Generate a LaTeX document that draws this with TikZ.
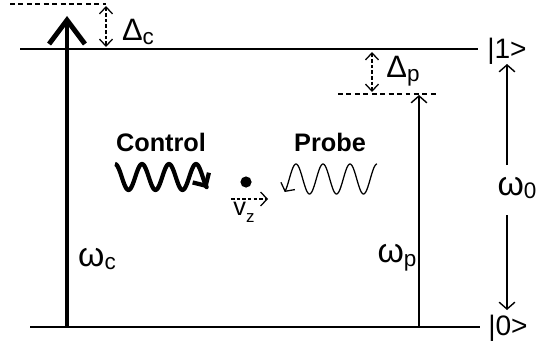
\documentclass[tikz,border=0pt]{standalone}
\usepackage{fontspec}
\setmainfont{Liberation Sans}
\usetikzlibrary{positioning}
\usetikzlibrary{%
  calc,%
  arrows.meta%
}
\newcommand{\freq}[1]{{\fontsize{24}{26}\selectfont ω}\raisebox{-0.5ex}{\fontsize{16}{18}\selectfont #1}}
\newcommand{\detun}[1]{{\fontsize{22}{24}\selectfont Δ}\raisebox{-0.5ex}{\fontsize{16}{18}\selectfont #1}}

\begin{document}
\begin{tikzpicture}[x=0.025cm, y=-0.025cm, every node/.style={inner sep=0pt},
  level/.style={line width=1.3pt},
  virt/.style={line width=1.1pt, dash pattern=on 3.5pt off 2.5pt},
  gap/.style={{Straight Barb[scale=1.4, scale length=1.5]}-{Straight Barb[scale=1.4, scale length=1.5]}, line width=0.9pt, dash pattern=on 2.5pt off 1.5pt},
  drift/.style={-{Straight Barb[scale=1.5, scale length=1.4]}, line width=0.9pt, dash pattern=on 2.5pt off 1.5pt},
  pump/.style={line width=3.5pt, -{Straight Barb[scale=1.5, scale length=2]}},
  probe/.style={line width=1pt, -{Straight Barb[scale=1.6, scale length=1.4]}},
  ctrlwave/.style={line width=3pt, line join=round, -{Straight Barb[scale=0.9]}},
  probewave/.style={line width=0.9pt, line join=round, -{Straight Barb[scale=1.7, scale length=1.3]}},
  ket/.style={font=\fontsize{20}{22}\selectfont},
  beamtxt/.style={font=\fontsize{18}{20}\selectfont\bfseries}]
\useasboundingbox (0,0) rectangle (536,348);
% the two levels
\coordinate (upl) at (20,49);
\coordinate (upr) at (478,49);
\coordinate (grl) at (30,327);
\coordinate (grr) at (480,327);
\draw[level] (upl) -- (upr);
\draw[level] (grl) -- (grr);
\node[ket, anchor=west] (one) at (487,51) {|1>};
\node[ket, anchor=west] (zero) at (488,328) {|0>};
% control field
\coordinate (cvl) at (10,4);
\coordinate (cvr) at (106,4);
\draw[virt] (cvl) -- (cvr);
\coordinate (cgt) at (106,6);
\coordinate (cgb) at (106,47);
\draw[gap] (cgt) -- (cgb);
\node (dc) at (138,32) {\detun{c}};
\coordinate (cfoot) at (67,327);
\coordinate (ctip) at (67,16);
\draw[pump] (cfoot) -- (ctip);
\node (wc) at (97,259) {\freq{c}};
% probe field
\coordinate (pvl) at (338,94);
\coordinate (pvr) at (437,94);
\draw[virt] (pvl) -- (pvr);
\coordinate (pgt) at (372,52);
\coordinate (pgb) at (372,92);
\draw[gap] (pgt) -- (pgb);
\node (dp) at (403,71) {\detun{p}};
\coordinate (pfoot) at (419,327);
\coordinate (ptip) at (419,95);
\draw[probe] (pfoot) -- (ptip);
\node (wp) at (397,258) {\freq{p}};
% transition frequency
\node (w0) at (517,188) {\freq{0}};
\coordinate (w0a) at (507,165);
\coordinate (w0b) at (507,64);
\coordinate (w0c) at (507,215);
\coordinate (w0d) at (507,310);
\draw[probe] (w0a) -- (w0b);
\draw[probe] (w0c) -- (w0d);
% beams and atom
\node[beamtxt] (ctrl) at (161,142) {Control};
\node[beamtxt] (prb) at (330,142) {Probe};
\draw[ctrlwave] plot[domain=270:1500, samples=120, smooth] ({115+(\x-270)/360*27}, {177+13*sin(\x)});
\draw[probewave] plot[domain=270:1500, samples=120, smooth] ({377-(\x-270)/360*27}, {179+15*sin(\x)});
\node[circle, fill, minimum size=0.28cm] (atom) at (246,182) {};
\coordinate (vzl) at (231,199);
\coordinate (vzr) at (268,199);
\draw[drift] (vzl) -- (vzr);
\node (vz) at (244,212) {\fontsize{18}{20}\selectfont v\raisebox{-0.5ex}{\fontsize{12}{14}\selectfont z}};
\end{tikzpicture}
\end{document}
